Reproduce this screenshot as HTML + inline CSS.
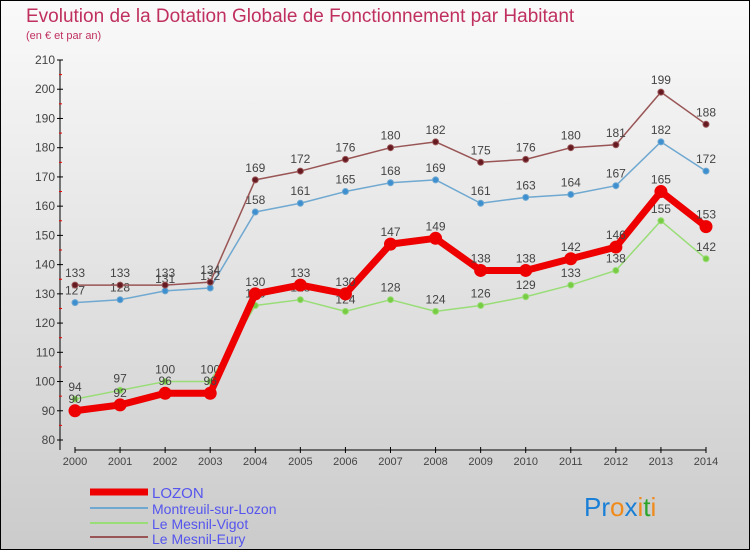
<!DOCTYPE html>
<html><head><meta charset="utf-8"><style>
body{margin:0;width:750px;height:550px;overflow:hidden;font-family:"Liberation Sans",sans-serif}
svg{display:block;font-family:"Liberation Sans",sans-serif}
</style></head><body>
<svg id="c" width="750" height="550">
<defs><linearGradient id="bg" x1="0" y1="0" x2="0" y2="1"><stop offset="0" stop-color="#fafafa"/><stop offset="1" stop-color="#cbcbcb"/></linearGradient></defs>
<rect x="0.5" y="0.5" width="749" height="549" fill="url(#bg)" stroke="#000"/>
<text x="26" y="22" font-size="19" fill="#c0305e">Evolution de la Dotation Globale de Fonctionnement par Habitant</text>
<text x="26" y="39" font-size="11" fill="#c0305e">(en € et par an)</text>
<g id="axes"></g><g id="series"></g>
<g>
<line x1="90" y1="492" x2="148" y2="492" stroke="#e00" stroke-width="7"/>
<text x="152" y="498" font-size="15" fill="#5555ee">LOZON</text>
<line x1="90" y1="508" x2="148" y2="508" stroke="#6fa8d0" stroke-width="2"/>
<text x="152" y="514" font-size="14" fill="#5555ee">Montreuil-sur-Lozon</text>
<line x1="90" y1="523" x2="148" y2="523" stroke="#99dd77" stroke-width="2"/>
<text x="152" y="529" font-size="14" fill="#5555ee">Le Mesnil-Vigot</text>
<line x1="90" y1="537" x2="148" y2="537" stroke="#995555" stroke-width="2"/>
<text x="152" y="544" font-size="14" fill="#5555ee">Le Mesnil-Eury</text>
</g>
<text x="584" y="516" font-size="26"><tspan fill="#1a7fd6">Pr</tspan><tspan fill="#f08a1a">o</tspan><tspan fill="#1a7fd6">x</tspan><tspan fill="#f08a1a">i</tspan><tspan fill="#2aa52a">t</tspan><tspan fill="#f08a1a">i</tspan></text>
</svg>
<script>
const years=["2000","2001","2002","2003","2004","2005","2006","2007","2008","2009","2010","2011","2012","2013","2014"];
const yTicks=[80,90,100,110,120,130,140,150,160,170,180,190,200,210];
const lozon=[90,92,96,96,130,133,130,147,149,138,138,142,146,165,153];
const montreuil=[127,128,131,132,158,161,165,168,169,161,163,164,167,182,172];
const vigot=[94,97,100,100,126,128,124,128,124,126,129,133,138,155,142];
const eury=[133,133,133,134,169,172,176,180,182,175,176,180,181,199,188];
const NS="http://www.w3.org/2000/svg";
const x=i=>75+i*(706-75)/14;
const y=v=>440-(v-80)*(380/130);
function mk(t,a,p){const e=document.createElementNS(NS,t);for(const k in a)e.setAttribute(k,a[k]);p.appendChild(e);return e;}
const ax=document.getElementById('axes');
const ya=mk('line',{x1:60,y1:y(210),x2:60,y2:450,stroke:'#000'},ax);


yTicks.forEach(v=>{
  mk('line',{x1:57,y1:y(v),x2:63,y2:y(v),stroke:'#000'},ax);
  if(v<210){mk('line',{x1:59,y1:y(v+5),x2:62,y2:y(v+5),stroke:'#e00'},ax);}
  const t=mk('text',{x:55,y:y(v)+4,'text-anchor':'end','font-size':12,fill:'#444'},ax);
  
  
  t.textContent=v;
});
const xa=mk('line',{x1:75,y1:450,x2:706,y2:450,stroke:'#000'},ax);


years.forEach((yr,i)=>{
  mk('line',{x1:x(i),y1:447,x2:x(i),y2:453,stroke:'#000'},ax);
  const t=mk('text',{x:x(i),y:465,'text-anchor':'middle','font-size':11,fill:'#444'},ax);
  
  
  t.textContent=yr;
});
const sg=document.getElementById('series');
function draw(data,name,color,dot,w,r){
  const g=mk('g',{},sg);
  
  
  const pl=mk('polyline',{points:data.map((v,i)=>x(i)+','+y(v)).join(' '),fill:'none',stroke:color,'stroke-width':w,'stroke-linejoin':'round'},g);
  
  data.forEach((v,i)=>{
    const c=mk('circle',{cx:x(i),cy:y(v),r:r,fill:dot,stroke:color,'stroke-width':1},g);
    
    
    const t=mk('text',{x:x(i),y:y(v)-8,'text-anchor':'middle','font-size':12,fill:'#444'},g);
    
    
    t.textContent=v;
  });
}
draw(vigot,'vigot','#99dd77','#77cc44',1.5,3);
draw(montreuil,'montreuil','#6fa8d0','#3d8fd0',1.5,3);
draw(eury,'eury','#995555','#661a22',1.5,3);
draw(lozon,'lozon','#ee0000','#ee0000',7,6);
</script>
</body></html>
